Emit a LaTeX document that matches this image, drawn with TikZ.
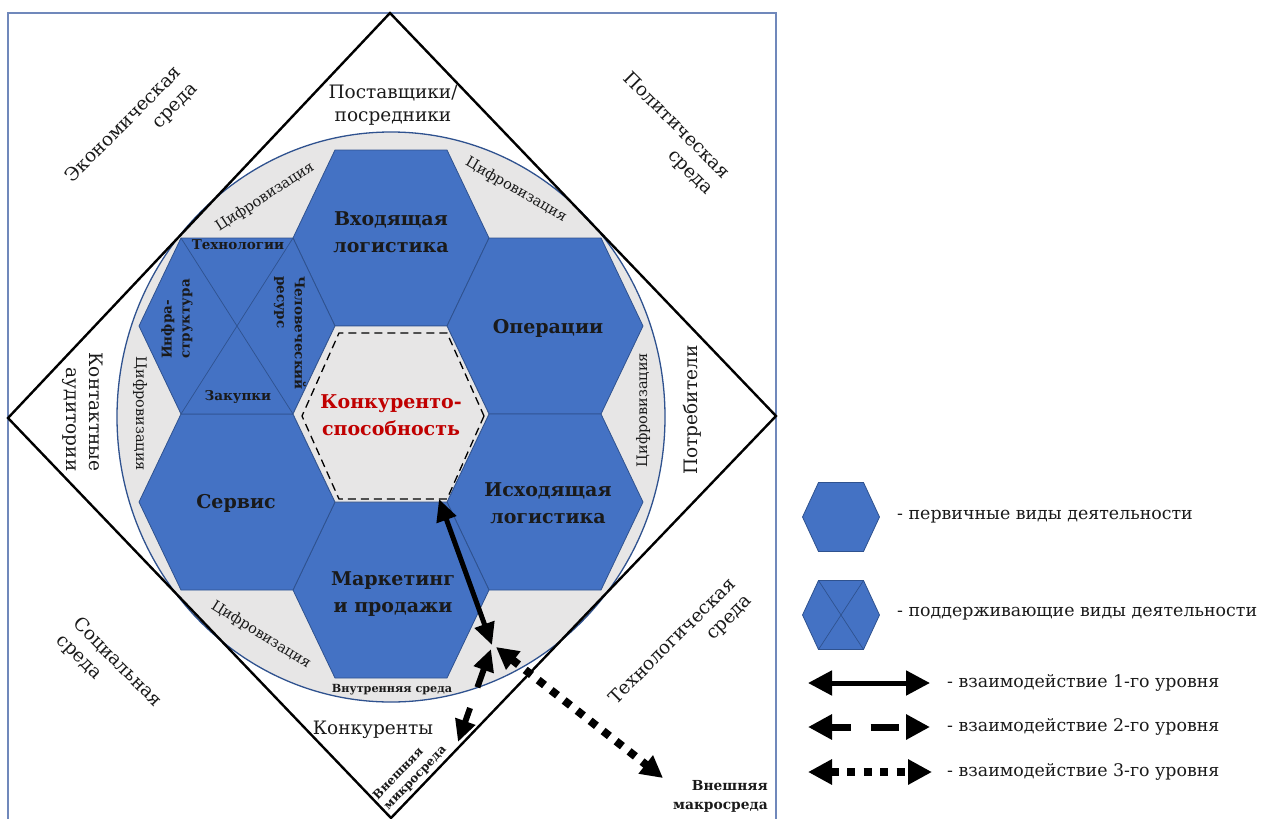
\documentclass[tikz,border=0pt]{standalone}
\usepackage{fontspec}
\setmainfont{DejaVu Serif}
\usetikzlibrary{arrows.meta}
\definecolor{hexblue}{HTML}{4472C4}
\definecolor{hexedge}{HTML}{2F528F}
\definecolor{ringgray}{HTML}{E7E6E6}
\definecolor{framecol}{HTML}{7088BB}
\definecolor{redtxt}{HTML}{C00000}
\definecolor{txt}{HTML}{1A1A1A}
% hexagon: style, cx, cy, half-width, half-top, half-height
\newcommand\hexdraw[6]{\draw[#1] (#2+#4,#3) -- (#2+#5,#3+#6) -- (#2-#5,#3+#6) -- (#2-#4,#3) -- (#2-#5,#3-#6) -- (#2+#5,#3-#6) -- cycle;}
% cross of a support hexagon: cx, cy, half-top, half-height
\newcommand\hexcross[4]{\draw[hexedge, line width=0.7pt] (#1-#3,#2-#4) -- (#1+#3,#2+#4) (#1+#3,#2-#4) -- (#1-#3,#2+#4);}
\tikzset{
  hexprim/.style={fill=hexblue, draw=hexedge, line width=0.8pt},
  hexcore/.style={fill=ringgray, draw=hexedge, line width=0.8pt},
  envlabel/.style={font=\fontsize{18.5}{23}\selectfont, text=txt, inner sep=0pt},
  digitlabel/.style={font=\fontsize{14.5}{17}\selectfont, text=txt, inner sep=0pt},
  hexlabel/.style={font=\fontsize{19}{27}\selectfont\bfseries, text=txt, align=center, inner sep=0pt},
  smallbold/.style={font=\fontsize{13.5}{18}\selectfont\bfseries, text=txt, inner sep=0pt},
  innerbold/.style={font=\fontsize{11.2}{16}\selectfont\bfseries, text=txt, inner sep=0pt},
  microbold/.style={font=\fontsize{12}{15}\selectfont\bfseries, text=txt, inner sep=0pt},
  macrobold/.style={font=\fontsize{13.8}{19}\selectfont\bfseries, text=txt, inner sep=0pt},
  legendtxt/.style={font=\fontsize{17.4}{20}\selectfont, text=txt, anchor=west, inner sep=0pt},
  arrone/.style={line width=5pt, arrows={Triangle[length=22pt,width=20pt]-Triangle[length=22pt,width=20pt]}},
  arrtwo/.style={line width=6pt, dash pattern=on 20pt off 22pt, arrows={Triangle[length=22pt,width=20pt]-Triangle[length=22pt,width=20pt]}},
  arrthree/.style={line width=8pt, dash pattern=on 8pt off 8.5pt, arrows={Triangle[length=22pt,width=22pt]-Triangle[length=22pt,width=22pt]}},
  legone/.style={line width=5pt, arrows={Triangle[length=24pt,width=24pt]-Triangle[length=24pt,width=24pt]}},
  legtwo/.style={line width=7pt, dash pattern=on 20pt off 20pt on 28pt off 20pt, arrows={Triangle[length=24pt,width=24pt]-Triangle[length=24pt,width=24pt]}},
  legthree/.style={line width=8pt, dash pattern=on 8pt off 8.5pt, arrows={Triangle[length=24pt,width=24pt]-Triangle[length=24pt,width=24pt]}},
}
\begin{document}
\begin{tikzpicture}[x=1pt,y=-1pt]
\useasboundingbox (0,0) rectangle (1266,819);
% frame
\draw[framecol, line width=1.3pt] (8,825) -- (8,13) -- (776,13) -- (776,825);
% gray ring clipped by diamond
\begin{scope}
  \clip (390,13) -- (776,416) -- (391,818) -- (8,418) -- cycle;
  \fill[ringgray] (391,417) ellipse [x radius=274, y radius=285];
\end{scope}
\draw[hexedge, line width=1.3pt] (391,417) ellipse [x radius=274, y radius=285];
% hexagons
\hexdraw{hexprim}{391}{238}{98}{56}{88}
\hexdraw{hexprim}{545}{326}{98}{56}{88}
\hexdraw{hexprim}{545}{502}{98}{56}{88}
\hexdraw{hexprim}{391}{590}{98}{56}{88}
\hexdraw{hexprim}{237}{502}{98}{56}{88}
\hexdraw{hexprim}{237}{326}{98}{56}{88}
\hexcross{237}{326}{56}{88}
\hexdraw{hexcore}{391}{414}{98}{56}{88}
\hexdraw{black, line width=1.3pt, dash pattern=on 8pt off 5pt}{393}{416}{91}{54}{83}
% diamond
\draw[black, line width=2.4pt] (390,13) -- (776,416) -- (391,818) -- (8,418) -- cycle;

% environment labels
\node[envlabel, rotate=45, align=right] (econ) at (132,133) {Экономическая\\среда};
\node[envlabel, rotate=-45, align=right] (polit) at (668,134) {Политическая\\среда};
\node[envlabel, rotate=-45, align=left] (soc) at (109,671) {Социальная\\среда};
\node[envlabel, rotate=45, align=right] (tech) at (681,650) {Технологическая\\среда};
% micro-environment labels
\node[envlabel, align=center] (supp) at (393,105) {Поставщики/\\посредники};
\node[envlabel, rotate=-90, align=right] (contact) at (83,412) {Контактные\\аудитории};
\node[envlabel, rotate=90] (cons) at (692,410) {Потребители};
\node[envlabel] (comp) at (373,730) {Конкуренты};
% digitalization
\node[digitlabel, rotate=33] (dig1) at (265,197) {Цифровизация};
\node[digitlabel, rotate=-30] (dig2) at (516,190) {Цифровизация};
\node[digitlabel, rotate=-90] (dig3) at (140,414) {Цифровизация};
\node[digitlabel, rotate=90] (dig4) at (643,410) {Цифровизация};
\node[digitlabel, rotate=-32] (dig5) at (261,635) {Цифровизация};
% hex labels
\node[hexlabel] (inlog) at (391,232) {Входящая\\логистика};
\node[hexlabel] (oper) at (548,328) {Операции};
\node[hexlabel] (outlog) at (548,503) {Исходящая\\логистика};
\node[hexlabel] (mark) at (393,594) {Маркетинг\\и продажи};
\node[hexlabel] (serv) at (236,503) {Сервис};
\node[hexlabel, text=redtxt] (compet) at (391,415) {Конкуренто-\\способность};
\node[smallbold] (techn) at (238,245) {Технологии};
\node[smallbold] (purch) at (238,397) {Закупки};
\node[smallbold, rotate=90, align=left] (infra) at (177,319) {Инфра-\\структура};
\node[smallbold, rotate=-90, align=left] (human) at (290,333) {Человеческий\\ресурс};
\node[innerbold] (inner) at (392,690) {Внутренняя среда};
\node[microbold, rotate=46, align=left] (micro) at (410,773) {Внешняя\\микросреда};
\node[macrobold, align=right, anchor=east] (macro) at (768,796) {Внешняя\\макросреда};
% interaction arrows
\coordinate (aTop) at (439,499);
\coordinate (aMid1) at (492,645);
\coordinate (aMid2) at (491,649);
\coordinate (aMicro) at (458,742);
\coordinate (aMid3) at (496,647);
\coordinate (aMacro) at (663,778);
\draw[arrone] (aTop) -- (aMid1);
\draw[arrtwo] (aMid2) -- (aMicro);
\draw[arrthree] (aMid3) -- (aMacro);
% legend
\hexdraw{hexprim}{841}{517}{38.5}{22.5}{34.5}
\hexdraw{hexprim}{841}{615}{38.5}{22.5}{34.5}
\hexcross{841}{615}{22.5}{34.5}
\node[legendtxt] (l1) at (897,517) {- первичные виды деятельности};
\node[legendtxt] (l2) at (897,614) {- поддерживающие виды деятельности};
\coordinate (la1) at (808,683); \coordinate (lb1) at (930,683);
\coordinate (la2) at (808,727); \coordinate (lb2) at (930,727);
\coordinate (la3) at (808,772); \coordinate (lb3) at (932,772);
\draw[legone] (la1) -- (lb1);
\draw[legtwo] (la2) -- (lb2);
\draw[legthree] (la3) -- (lb3);
\node[legendtxt] (l3) at (947,683) {- взаимодействие 1-го уровня};
\node[legendtxt] (l4) at (947,727) {- взаимодействие 2-го уровня};
\node[legendtxt] (l5) at (947,772) {- взаимодействие 3-го уровня};
\end{tikzpicture}
\end{document}
